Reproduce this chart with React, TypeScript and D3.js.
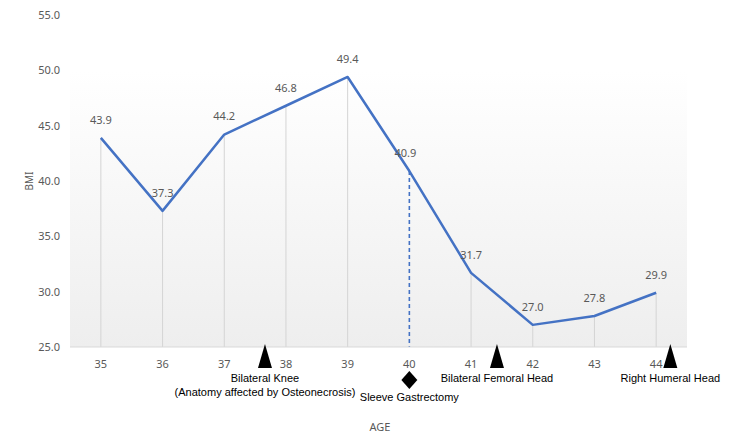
import * as d3 from 'd3';

const AGES = ['35', '36', '37', '38', '39', '40', '41', '42', '43', '44'];
const BMI = [43.9, 37.3, 44.2, 46.8, 49.4, 40.9, 31.7, 27.0, 27.8, 29.9];
const Y_TICKS = [25, 30, 35, 40, 45, 50, 55];

// events: placed between / at age categories (offset in bands from the category centre)
const EVENTS = [
  {age: '37', offset: 0.66, shape: 'triangle', lines: ['Bilateral Knee', '(Anatomy affected by Osteonecrosis)']},
  {age: '40', offset: 0, shape: 'diamond', lines: ['Sleeve Gastrectomy']},
  {age: '41', offset: 0.42, shape: 'triangle', lines: ['Bilateral Femoral Head']},
  {age: '44', offset: 0.23, shape: 'triangle', lines: ['Right Humeral Head']}
];
const DASHED_AGE = '40';

const W = 750;
const H = 444;
const margin = {left: 70, right: 63, top: 15, bottom: 97};

export default function App() {
  const x = d3.scaleBand().domain(AGES).range([margin.left, W - margin.right]);
  const y = d3.scaleLinear().domain([25, 55]).range([H - margin.bottom, margin.top]);
  const cx = (a: string) => (x(a) as number) + x.bandwidth() / 2;
  const base = y(25);

  const line = d3.line<number>()
    .x((_, i) => cx(AGES[i]))
    .y((d) => y(d));

  const font = '"Noto Sans", "Open Sans", sans-serif';
  const noteFont = '"Liberation Sans", Arial, sans-serif';
  const grey = '#595959';

  return (
    <div style={{position: 'absolute', left: 0, top: 0}}>
      <svg width={W} height={H} style={{display: 'block', background: '#fff'}}>
        <defs>
          <linearGradient id="plotBg" x1="0" y1="0" x2="0" y2="1">
            <stop offset="0" stopColor="#ffffff" />
            <stop offset="1" stopColor="#eeeeee" />
          </linearGradient>
        </defs>
        <rect x={margin.left} y={y(50)} width={W - margin.left - margin.right}
          height={base - y(50)} fill="url(#plotBg)" />

        {/* drop lines */}
        {BMI.map((v, i) => AGES[i] === DASHED_AGE ? (
          <line key={i} x1={cx(AGES[i])} x2={cx(AGES[i])} y1={y(v)} y2={base}
            stroke="#4472C4" strokeWidth={1.6} strokeDasharray="4,3" />
        ) : (
          <line key={i} x1={cx(AGES[i])} x2={cx(AGES[i])} y1={y(v)} y2={base}
            stroke="#d4d4d4" strokeWidth={1} />
        ))}

        <line x1={margin.left} x2={W - margin.right} y1={base} y2={base} stroke="#d9d9d9" strokeWidth={1} />

        {/* y axis labels */}
        {Y_TICKS.map((t) => (
          <text key={t} x={margin.left - 10} y={y(t)} dy="0.35em" textAnchor="end"
            fontFamily={font} fontSize={11} fill={grey}>{t.toFixed(1)}</text>
        ))}
        <text transform={`translate(29, ${y(40)}) rotate(-90)`} textAnchor="middle" dy="0.35em"
          fontFamily={font} fontSize={10} fill={grey}>BMI</text>

        {/* x axis labels */}
        {AGES.map((a) => (
          <text key={a} x={cx(a)} y={base + 17} dy="0.35em" textAnchor="middle"
            fontFamily={font} fontSize={11} fill={grey}>{a}</text>
        ))}
        <text x={380} y={427} dy="0.35em" textAnchor="middle" fontFamily={font} fontSize={11} fill={grey}>AGE</text>

        <path d={line(BMI) || ''} fill="none" stroke="#4472C4" strokeWidth={2.5} strokeLinejoin="round" />

        {/* data labels */}
        {BMI.map((v, i) => (
          <text key={i} x={cx(AGES[i]) - (AGES[i] === DASHED_AGE ? 4 : 0)} y={y(v) - 18} dy="0.35em"
            textAnchor="middle" fontFamily={font} fontSize={11} fill={grey}>{v.toFixed(1)}</text>
        ))}

        {/* event markers */}
        {EVENTS.map((e, i) => {
          const ex = cx(e.age) + e.offset * x.bandwidth();
          const marker = e.shape === 'triangle'
            ? <path d={`M${ex},${base - 3} L${ex + 7},${base + 21} L${ex - 7},${base + 21} Z`} fill="#000" />
            : <path d={`M${ex},${base + 24} L${ex + 8},${base + 33} L${ex},${base + 42} L${ex - 8},${base + 33} Z`} fill="#000" />;
          const textTop = e.shape === 'triangle' ? base + 31 : base + 50;
          return (
            <g key={i}>
              {marker}
              {e.lines.map((l, j) => (
                <text key={j} x={ex} y={textTop + j * 14} dy="0.35em" textAnchor="middle"
                  fontFamily={noteFont} fontSize={11} fill="#000">{l}</text>
              ))}
            </g>
          );
        })}
      </svg>
    </div>
  );
}
